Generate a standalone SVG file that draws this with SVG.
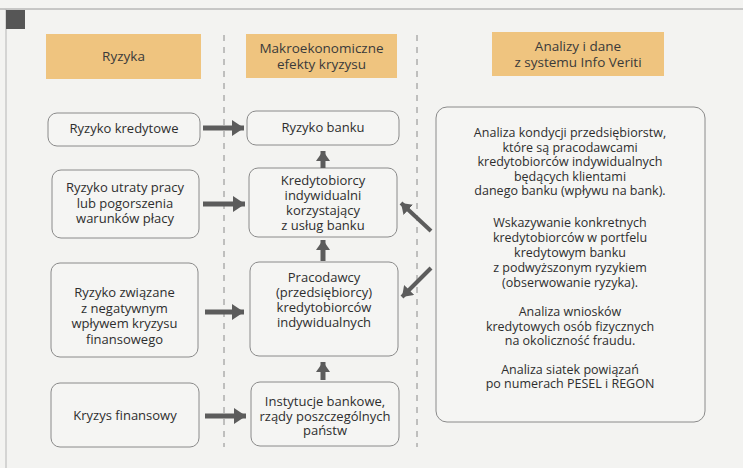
<svg xmlns="http://www.w3.org/2000/svg" width="743" height="468" viewBox="0 0 743 468">
  <style>
    .box { fill: #f5f5f3; stroke: #8a8a8a; stroke-width: 1; }
    .hdr { fill: #efc47f; }
    .t { font-family: "Open Sans", "Noto Sans", "Liberation Sans", sans-serif; font-size: 13px; fill: #2e2e2e; text-anchor: middle; }
    .tr { font-family: "Open Sans", "Noto Sans", "Liberation Sans", sans-serif; font-size: 12.5px; fill: #2e2e2e; text-anchor: middle; }
    .th { font-family: "Open Sans", "Liberation Sans", sans-serif; font-size: 13.5px; fill: #3a3a3a; text-anchor: middle; }
    .dash { stroke: #8a8a8a; stroke-width: 1; stroke-dasharray: 6 6; fill: none; }
    .arr { stroke: #5c5c5c; stroke-width: 5; fill: none; }
    .arrd { stroke: #5c5c5c; stroke-width: 4; fill: none; }
  </style>
  <defs>
    <marker id="ah" markerUnits="userSpaceOnUse" markerWidth="14" markerHeight="16" refX="12" refY="8" orient="auto">
      <path d="M0,0 L12,8 L0,16 Z" fill="#5c5c5c"/>
    </marker>
    <marker id="ahv" markerUnits="userSpaceOnUse" markerWidth="12" markerHeight="14" refX="10" refY="7" orient="auto">
      <path d="M0,0 L10,7 L0,14 Z" fill="#5c5c5c"/>
    </marker>
  </defs>

  <rect x="0" y="0" width="743" height="468" fill="#f3f3f1"/>
  <line x1="0" y1="9" x2="743" y2="9" stroke="#9a9a9a" stroke-width="1"/>
  <line x1="6" y1="9" x2="6" y2="468" stroke="#b5b5b5" stroke-width="1"/>
  <rect x="6" y="10" width="19" height="19" fill="#565656"/>

  <g id="separators">
    <line class="dash" x1="224" y1="35" x2="224" y2="447"/>
    <line class="dash" x1="417" y1="35" x2="417" y2="447"/>
  </g>

  <g id="hdr-ryzyka">
    <rect class="hdr" x="46" y="34" width="155" height="45"/>
    <text class="th" x="123.5" y="61">Ryzyka</text>
  </g>
  <g id="hdr-makro">
    <rect class="hdr" x="246" y="34" width="151" height="44"/>
    <text class="th" x="321.5" y="53">Makroekonomiczne</text>
    <text class="th" x="321.5" y="69">efekty kryzysu</text>
  </g>
  <g id="hdr-analizy">
    <rect class="hdr" x="492" y="32" width="172" height="44"/>
    <text class="th" x="578" y="51">Analizy i dane</text>
    <text class="th" x="578" y="67">z systemu Info Veriti</text>
  </g>

  <g id="ryzyko-kredytowe">
    <rect class="box" x="48" y="113" width="152" height="33" rx="9"/>
    <text class="t" x="124" y="133">Ryzyko kredytowe</text>
  </g>
  <g id="ryzyko-utraty">
    <rect class="box" x="52" y="170" width="147" height="68" rx="9"/>
    <text class="t" x="125" y="192">Ryzyko utraty pracy</text>
    <text class="t" x="125" y="207.5">lub pogorszenia</text>
    <text class="t" x="125" y="223">warunków płacy</text>
  </g>
  <g id="ryzyko-zwiazane">
    <rect class="box" x="51" y="263" width="147" height="94" rx="9"/>
    <text class="t" x="124.5" y="297">Ryzyko związane</text>
    <text class="t" x="124.5" y="312.5">z negatywnym</text>
    <text class="t" x="124.5" y="328">wpływem kryzysu</text>
    <text class="t" x="124.5" y="343.5">finansowego</text>
  </g>
  <g id="kryzys-finansowy">
    <rect class="box" x="51" y="383" width="148" height="64" rx="9"/>
    <text class="t" x="125" y="420">Kryzys finansowy</text>
  </g>

  <g id="ryzyko-banku">
    <rect class="box" x="247" y="111" width="152" height="34" rx="9"/>
    <text class="t" x="323" y="132">Ryzyko banku</text>
  </g>
  <g id="kredytobiorcy">
    <rect class="box" x="249" y="168" width="148" height="69" rx="9"/>
    <text class="t" x="323" y="185">Kredytobiorcy</text>
    <text class="t" x="323" y="200">indywidualni</text>
    <text class="t" x="323" y="215">korzystający</text>
    <text class="t" x="323" y="230">z usług banku</text>
  </g>
  <g id="pracodawcy">
    <rect class="box" x="250" y="262" width="148" height="94" rx="9"/>
    <text class="t" x="324" y="281.5">Pracodawcy</text>
    <text class="t" x="324" y="296.5">(przedsiębiorcy)</text>
    <text class="t" x="324" y="311.5">kredytobiorców</text>
    <text class="t" x="324" y="326.5">indywidualnych</text>
  </g>
  <g id="instytucje">
    <rect class="box" x="251" y="382" width="148" height="64" rx="9"/>
    <text class="t" x="325" y="406">Instytucje bankowe,</text>
    <text class="t" x="325" y="421">rządy poszczególnych</text>
    <text class="t" x="325" y="435">państw</text>
  </g>

  <g id="analizy">
    <rect class="box" x="436" y="107" width="269" height="315" rx="11"/>
    <text class="tr" x="570" y="137">Analiza kondycji przedsiębiorstw,</text>
    <text class="tr" x="570" y="151.5">które są pracodawcami</text>
    <text class="tr" x="570" y="166">kredytobiorców indywidualnych</text>
    <text class="tr" x="570" y="180.5">będących klientami</text>
    <text class="tr" x="570" y="195">danego banku (wpływu na bank).</text>
    <text class="tr" x="570" y="227">Wskazywanie konkretnych</text>
    <text class="tr" x="570" y="242">kredytobiorców w portfelu</text>
    <text class="tr" x="570" y="257">kredytowym banku</text>
    <text class="tr" x="570" y="272">z podwyższonym ryzykiem</text>
    <text class="tr" x="570" y="287">(obserwowanie ryzyka).</text>
    <text class="tr" x="570" y="316">Analiza wniosków</text>
    <text class="tr" x="570" y="330.5">kredytowych osób fizycznych</text>
    <text class="tr" x="570" y="345">na okoliczność fraudu.</text>
    <text class="tr" x="570" y="373.5">Analiza siatek powiązań</text>
    <text class="tr" x="570" y="388">po numerach PESEL i REGON</text>
  </g>

  <g id="connectors">
    <line class="arr" x1="203" y1="128" x2="244" y2="128" marker-end="url(#ah)"/>
    <line class="arr" x1="203" y1="204" x2="245" y2="204" marker-end="url(#ah)"/>
    <line class="arr" x1="205" y1="312" x2="244" y2="312" marker-end="url(#ah)"/>
    <line class="arr" x1="205" y1="416" x2="246" y2="416" marker-end="url(#ah)"/>
    <line class="arr" x1="323" y1="168" x2="323" y2="151" marker-end="url(#ahv)"/>
    <line class="arr" x1="323" y1="261" x2="323" y2="240" marker-end="url(#ahv)"/>
    <line class="arr" x1="323" y1="380" x2="323" y2="362" marker-end="url(#ahv)"/>
    <line class="arrd" x1="431" y1="231" x2="401" y2="203" marker-end="url(#ahv)"/>
    <line class="arrd" x1="431" y1="268" x2="402" y2="297" marker-end="url(#ahv)"/>
  </g>
</svg>
